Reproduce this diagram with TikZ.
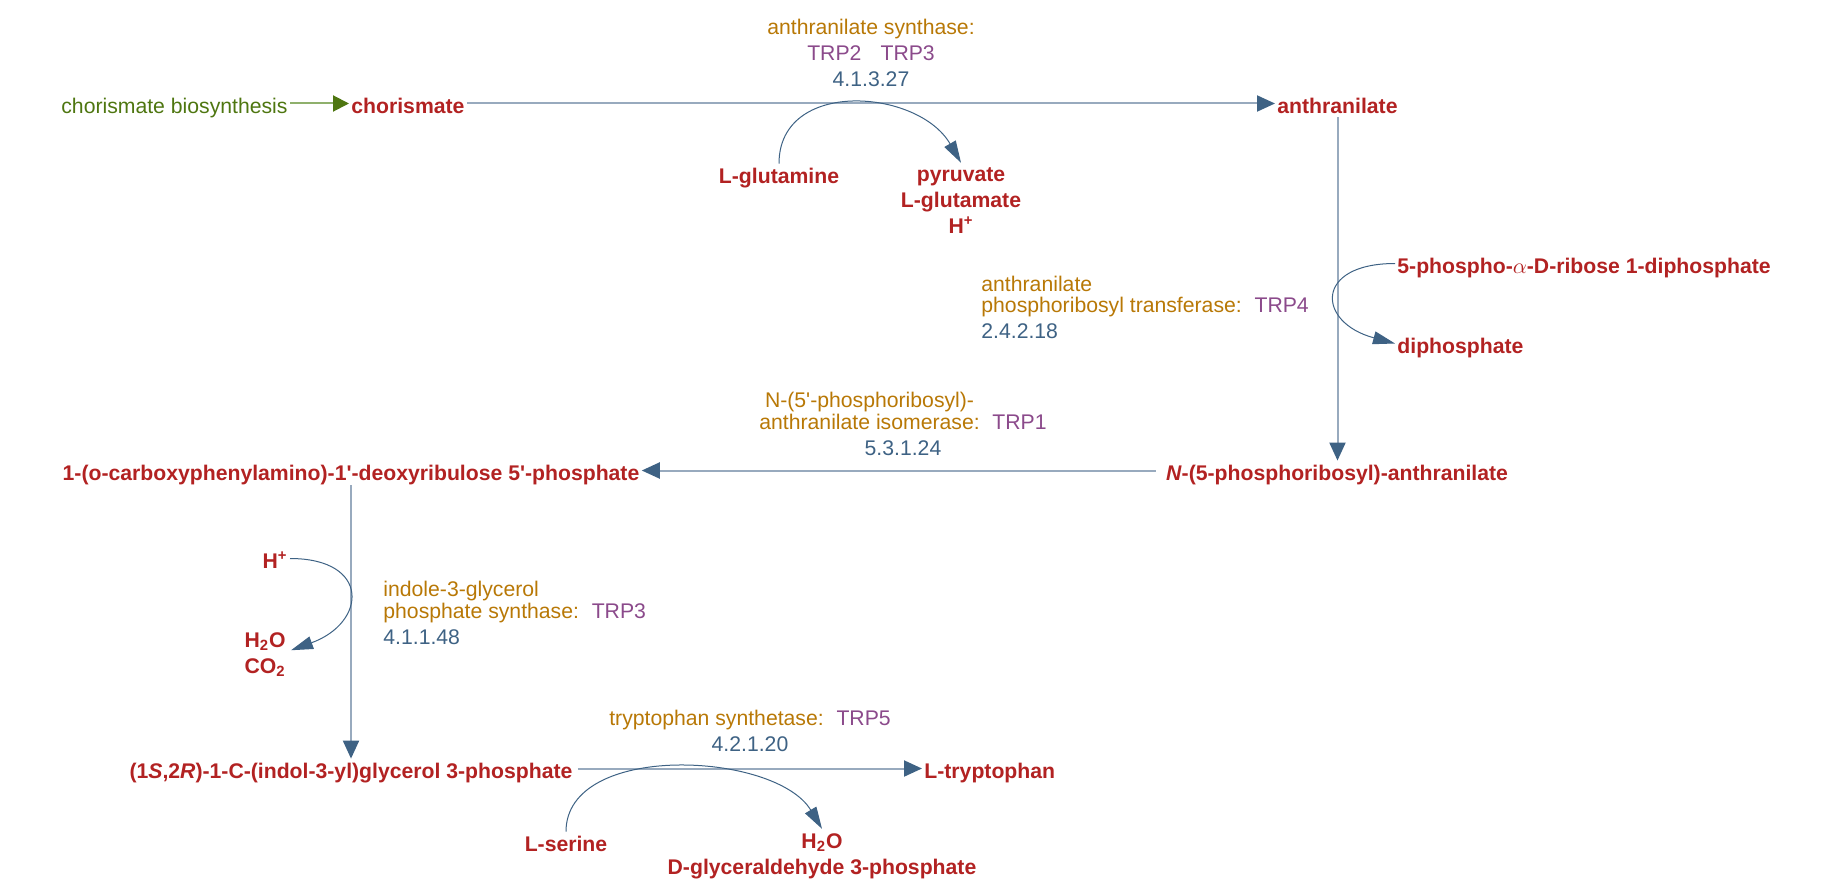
\documentclass[tikz,border=0pt]{standalone}
\usepackage{fontspec}
\setmainfont{Liberation Sans}
\usetikzlibrary{arrows.meta}
\usetikzlibrary{positioning}
\definecolor{cpdred}{RGB}{178,34,34}
\definecolor{enzgold}{RGB}{184,120,6}
\definecolor{genepurple}{RGB}{139,74,139}
\definecolor{ecblue}{RGB}{62,98,132}
\definecolor{rxngray}{RGB}{152,170,190}
\definecolor{tipblue}{RGB}{62,98,132}
\definecolor{linkgreen}{RGB}{78,118,16}
\definecolor{linkpale}{RGB}{143,176,108}
\def\cpdfont{\fontsize{10.6pt}{13pt}\selectfont\bfseries}
\def\enzfont{\fontsize{10.6pt}{10.75pt}\selectfont}
\tikzset{
    compound/.style = {
        font=\cpdfont, text=cpdred, inner xsep=1pt, inner ysep=0pt,
        text height=9.5pt, text depth=0pt, align=center
    },
    compounds/.style = {
        compound, text height=, text depth=, inner ysep=2pt
    },
    pathlink/.style = {
        font=\fontsize{10.6pt}{13pt}\selectfont, text=linkgreen,
        inner xsep=1pt, inner ysep=0pt, text height=9.5pt, text depth=0pt
    },
    enzyme/.style = {
        font=\enzfont, text=enzgold, inner sep=0pt
    },
    mainrxn/.style = {
        draw=rxngray, line width=1pt, -{Triangle[length=9pt, width=8pt, color=tipblue]}
    },
    linkrxn/.style = {
        draw=linkpale, line width=1pt, -{Triangle[length=8pt, width=8pt, color=linkgreen]}
    },
    sidearc/.style = {
        draw=tipblue, line width=0.5pt, -{Triangle[length=11pt, width=6.5pt]}
    },
}
\begin{document}
\begin{tikzpicture}[x=0.5pt, y=-0.5pt]
        \useasboundingbox (0,0) rectangle (1824,888);

        % Place the compounds of the main route
        \node[pathlink, anchor=base east] (chobio) at (290,113) {chorismate biosynthesis};
        \node[compound, anchor=base west] (chorismate) at (349,113) {chorismate};
        \node[compound, anchor=base west] (anthranilate) at (1275,113) {anthranilate};
        \node[compound, anchor=base] (pranth) at (1337,480) {\textit{N}-(5-phosphoribosyl)-anthranilate};
        \node[compound, anchor=base] (cdrp) at (351,480) {1-(o-carboxyphenylamino)-1\textquotesingle-deoxyribulose 5\textquotesingle-phosphate};
        \node[compound, anchor=base] (igp) at (351,778) {(1\textit{S},2\textit{R})-1-C-(indol-3-yl)glycerol 3-phosphate};
        \node[compound, anchor=base west] (trp) at (922,778) {L-tryptophan};

        % Place the side compounds
        \node[compound, anchor=base] (gln) at (779,183) {L-glutamine};
        \node[compounds, anchor=base] (glnout) at (961,233) {pyruvate\\L-glutamate\\H\textsuperscript{+}};
        \node[compound, anchor=base west] (prpp) at (1395,273) {5-phospho-$\alpha$-D-ribose 1-diphosphate};
        \node[compound, anchor=base west] (ppi) at (1395,353) {diphosphate};
        \node[compound, anchor=base east] (proton) at (290,568) {H\textsuperscript{+}};
        \node[compounds, anchor=base east] (igpout) at (288,673) {H\textsubscript{2}O\\CO\textsubscript{2}};
        \node[compound, anchor=base] (ser) at (566,851) {L-serine};
        \node[compounds, anchor=base] (serout) at (822,874) {H\textsubscript{2}O\\D-glyceraldehyde 3-phosphate};

        % Place the enzymes
        \node[enzyme, anchor=base, align=center] (asyn) at (871,87)
            {anthranilate synthase:\\[2pt]\textcolor{genepurple}{TRP2\hspace{0.9em}TRP3}\\[2.5pt]\textcolor{ecblue}{4.1.3.27}};
        \node[enzyme, anchor=base west, align=left] (aptr) at (981,338)
            {anthranilate\\phosphoribosyl transferase:\hspace{0.6em}\textcolor{genepurple}{TRP4}\\[2pt]\textcolor{ecblue}{2.4.2.18}};
        \node[enzyme, anchor=base, align=center] (prai) at (903,455)
            {\begin{tabular}[b]{@{}c@{}}N-(5\textquotesingle-phosphoribosyl)-\\anthranilate isomerase:\end{tabular}\hspace{0.6em}\textcolor{genepurple}{TRP1}\\[2.25pt]\textcolor{ecblue}{5.3.1.24}};
        \node[enzyme, anchor=base west, align=left] (igps) at (383,644)
            {indole-3-glycerol\\phosphate synthase:\hspace{0.6em}\textcolor{genepurple}{TRP3}\\[2.25pt]\textcolor{ecblue}{4.1.1.48}};
        \node[enzyme, anchor=base, align=center] (tsyn) at (750,751)
            {tryptophan synthetase:\hspace{0.6em}\textcolor{genepurple}{TRP5}\\[2.25pt]\textcolor{ecblue}{4.2.1.20}};

        % Draw the main route
        \draw[linkrxn] (chobio.east) -- (chorismate.west);
        \draw[mainrxn] (chorismate.east) -- (anthranilate.west);
        \draw[mainrxn, shorten <=2pt] (anthranilate.south) -- (anthranilate.south |- pranth.north);
        \draw[mainrxn, shorten <=4pt] (pranth.west) -- (pranth.west -| cdrp.east);
        \draw[mainrxn, shorten <=2.5pt] (cdrp.south) -- (cdrp.south |- igp.north);
        \draw[mainrxn, shorten <=1.5pt] (igp.east) -- (trp.west);

        % Draw the side arcs
        \draw[sidearc] (gln.north) to[out=90, in=120, looseness=1.2] (glnout.north);
        \draw[sidearc] (prpp.west) to[out=180, in=165, looseness=2.6] (ppi.west);
        \draw[sidearc] (proton.east) to[out=0, in=20, looseness=2.25] ([xshift=1.5pt, yshift=2pt]igpout.east);
        \draw[sidearc] (ser.north) to[out=90, in=121, looseness=0.9] (serout.north);
\end{tikzpicture}
\end{document}
